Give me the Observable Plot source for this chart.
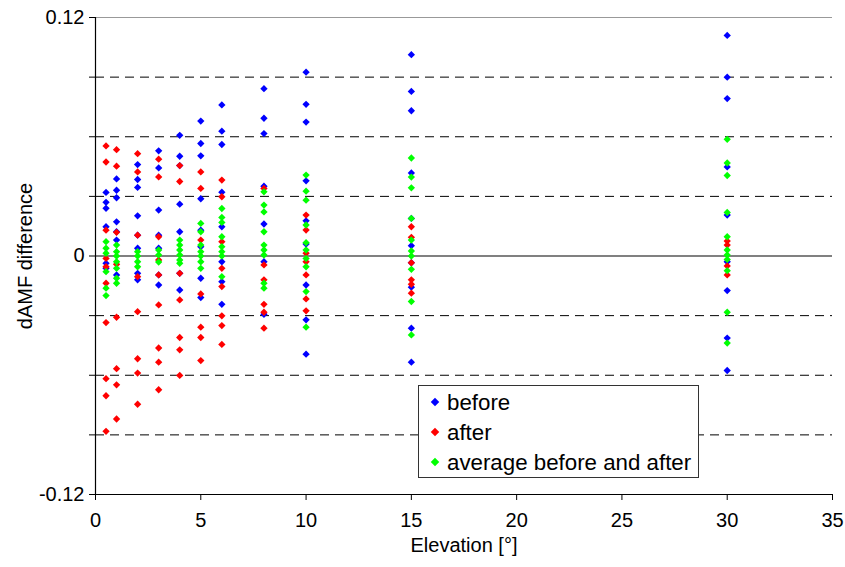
<!DOCTYPE html>
<html>
<head>
<meta charset="utf-8">
<script src="https://cdn.jsdelivr.net/npm/d3@7"></script>
<script src="https://cdn.jsdelivr.net/npm/@observablehq/plot@0.6"></script>
<style>
  body { margin: 0; background: #fff; font-family: "Liberation Sans", Arial, sans-serif; }
  #wrap { position: relative; width: 845px; height: 567px; }
  #legend { position: absolute; left: 418px; top: 385px; width: 281px; height: 93px;
    border: 1px solid #333; background: #fff; box-sizing: border-box; font-size: 22.3px; color: #000; }
  #legend .row { position: absolute; left: 9px; height: 26px; line-height: 26px; white-space: nowrap; }
  #legend .sw { display: inline-block; width: 6px; height: 6px; transform: rotate(45deg); margin: 0 9px 4px 4px; vertical-align: middle; }
</style>
</head>
<body>
<div id="wrap"></div>
<script>
// Elevation angles (x categories)
const elevations = [0.5, 1, 2, 3, 4, 5, 6, 8, 10, 15, 30];

// "before" values per elevation
const before = [
  [0.032, 0.027, 0.024, 0.0147, -0.0037, -0.0062],
  [0.0388, 0.0331, 0.0293, 0.0172, 0.0122, 0.008, -0.0095],
  [0.046, 0.0385, 0.0345, 0.0202, 0.0105, 0.0039, -0.0087, -0.012],
  [0.0529, 0.0443, 0.0231, 0.0105, 0.0039, -0.0095, -0.0146],
  [0.0607, 0.0502, 0.0455, 0.0261, 0.0122, -0.0087, -0.0171],
  [0.0679, 0.0566, 0.0504, 0.0288, 0.013, 0.0047, -0.0112, -0.0209],
  [0.076, 0.0628, 0.0561, 0.0321, 0.0147, -0.0029, -0.0129, -0.0243],
  [0.0842, 0.0693, 0.0616, 0.0351, 0.0161, -0.0029, -0.0293],
  [0.0925, 0.0763, 0.0674, 0.0378, 0.0177, 0.006, -0.0146, -0.0321, -0.0494],
  [0.1013, 0.0828, 0.0731, 0.0418, 0.0189, 0.0052, -0.0034, -0.0157, -0.0363, -0.0534],
  [0.111, 0.09, 0.0792, 0.0448, 0.0206, -0.0029, -0.0174, -0.0413, -0.0576]
];

// "after" values per elevation
const after = [
  [0.0554, 0.0473, 0.013, -0.0012, -0.0054, -0.0137, -0.0335, -0.0617, -0.0703, -0.0882],
  [0.0535, 0.0452, 0.0119, -0.0042, -0.0308, -0.0567, -0.0648, -0.082],
  [0.0515, 0.0423, 0.0105, -0.0104, -0.028, -0.0517, -0.0589, -0.0746],
  [0.0487, 0.0398, 0.0097, -0.002, -0.0095, -0.0246, -0.0463, -0.0534, -0.0673],
  [0.0455, 0.0375, -0.0087, -0.0221, -0.041, -0.0472, -0.0601],
  [0.0423, 0.034, 0.008, -0.0191, -0.0358, -0.041, -0.0526],
  [0.0382, 0.0298, 0.0072, -0.0062, -0.0154, -0.0301, -0.035, -0.0445],
  [0.034, -0.0045, -0.012, -0.0243, -0.0283, -0.0363],
  [0.0206, 0.0131, 0.0014, -0.0029, -0.0095, -0.0216, -0.0276],
  [0.0147, 0.0094, -0.0034, -0.012, -0.0142, -0.0187],
  [0.0075, 0.0055, -0.005, -0.0095]
];

// "average before and after" values per elevation
const average = [
  [0.0072, 0.0039, 0.0014, -0.0079, -0.0162, -0.0199],
  [0.0055, 0.0022, 0, -0.0029, -0.0062, -0.0112, -0.0137],
  [0.0022, 0, -0.0029, -0.0054],
  [0.0005, 0.003, -0.003],
  [0.008, 0.0055, 0.003, 0.0005, -0.002, -0.0037],
  [0.0164, 0.0122, 0.0055, 0.0022, 0, -0.0029, -0.0062],
  [0.0239, 0.0194, 0.0169, 0.0097, 0.0047, 0.0022, 0, -0.0104],
  [0.0323, 0.0256, 0.0222, 0.0122, 0.0055, 0.003, 0.0005, -0.0137, -0.0162],
  [0.0407, 0.0326, 0.0281, 0.0156, 0.0067, 0.003, -0.0012, -0.0054, -0.0179, -0.0358],
  [0.0493, 0.0397, 0.0343, 0.0189, 0.008, 0.0025, 0, -0.0067, -0.0229, -0.0397],
  [0.0587, 0.0468, 0.0405, 0.0219, 0.0097, 0.003, 0.0005, -0.0017, -0.0074, -0.0283, -0.0438]
];

const seriesNames = ["before", "after", "average before and after"];
const seriesColors = ["#0000ff", "#ff0000", "#00ff00"];
const yTickLabels = [-0.12, 0, 0.12];
const gridValues = [-0.09, -0.06, -0.03, 0.03, 0.06, 0.09];
const xTicks = [0, 5, 10, 15, 20, 25, 30, 35];

function flatten(arr, name) {
  const out = [];
  arr.forEach((vals, i) => vals.forEach(v => out.push({x: elevations[i], y: v, s: name})));
  return out;
}
const data = [
  ...flatten(before, seriesNames[0]),
  ...flatten(after, seriesNames[1]),
  ...flatten(average, seriesNames[2])
];

const chart = Plot.plot({
  width: 845, height: 567,
  marginLeft: 95, marginRight: 13, marginTop: 17, marginBottom: 73,
  style: {fontFamily: "'Liberation Sans', Arial, sans-serif", background: "#fff"},
  x: {domain: [0, 35]},
  y: {domain: [-0.12, 0.12]},
  color: {domain: seriesNames, range: seriesColors},
  marks: [
    Plot.ruleY(gridValues, {stroke: "#000", strokeDasharray: "9,6", strokeWidth: 1}),
    Plot.ruleY([0.12], {stroke: "#999", strokeWidth: 1}),
    Plot.ruleY([0], {stroke: "#808080", strokeWidth: 2}),
    Plot.dot(data, {x: "x", y: "y", fill: "s", symbol: "diamond2", r: 3.3, stroke: null}),
    Plot.ruleX([0], {stroke: "#000", strokeWidth: 1.2}),
    Plot.ruleY([-0.12], {stroke: "#000", strokeWidth: 1.2}),
    Plot.axisX({ticks: xTicks, tickSize: 6, tickPadding: 12, fontSize: 20, label: null, tickFormat: d => String(d)}),
    Plot.axisY({ticks: [...yTickLabels, ...gridValues], tickSize: 6, tickFormat: () => "", label: null}),
    Plot.axisY({ticks: yTickLabels, tickSize: 0, tickPadding: 11, fontSize: 20, label: null, tickFormat: d => d === 0 ? "0" : d.toFixed(2)}),
    Plot.text(["Elevation [°]"], {frameAnchor: "bottom", textAnchor: "middle", dy: 57, fontSize: 20, fill: "#000"}),
    Plot.text(["dAMF difference"], {frameAnchor: "left", textAnchor: "middle", dx: -70, rotate: -90, fontSize: 20, fill: "#000"})
  ]
});
const wrap = document.getElementById("wrap");
wrap.appendChild(chart);

const legend = document.createElement("div");
legend.id = "legend";
seriesNames.forEach((n, i) => {
  const row = document.createElement("div");
  row.className = "row";
  row.style.top = (4 + i * 30) + "px";
  row.innerHTML = `<span class="sw" style="background:${seriesColors[i]}"></span>${n}`;
  legend.appendChild(row);
});
wrap.appendChild(legend);
</script>
</body>
</html>
